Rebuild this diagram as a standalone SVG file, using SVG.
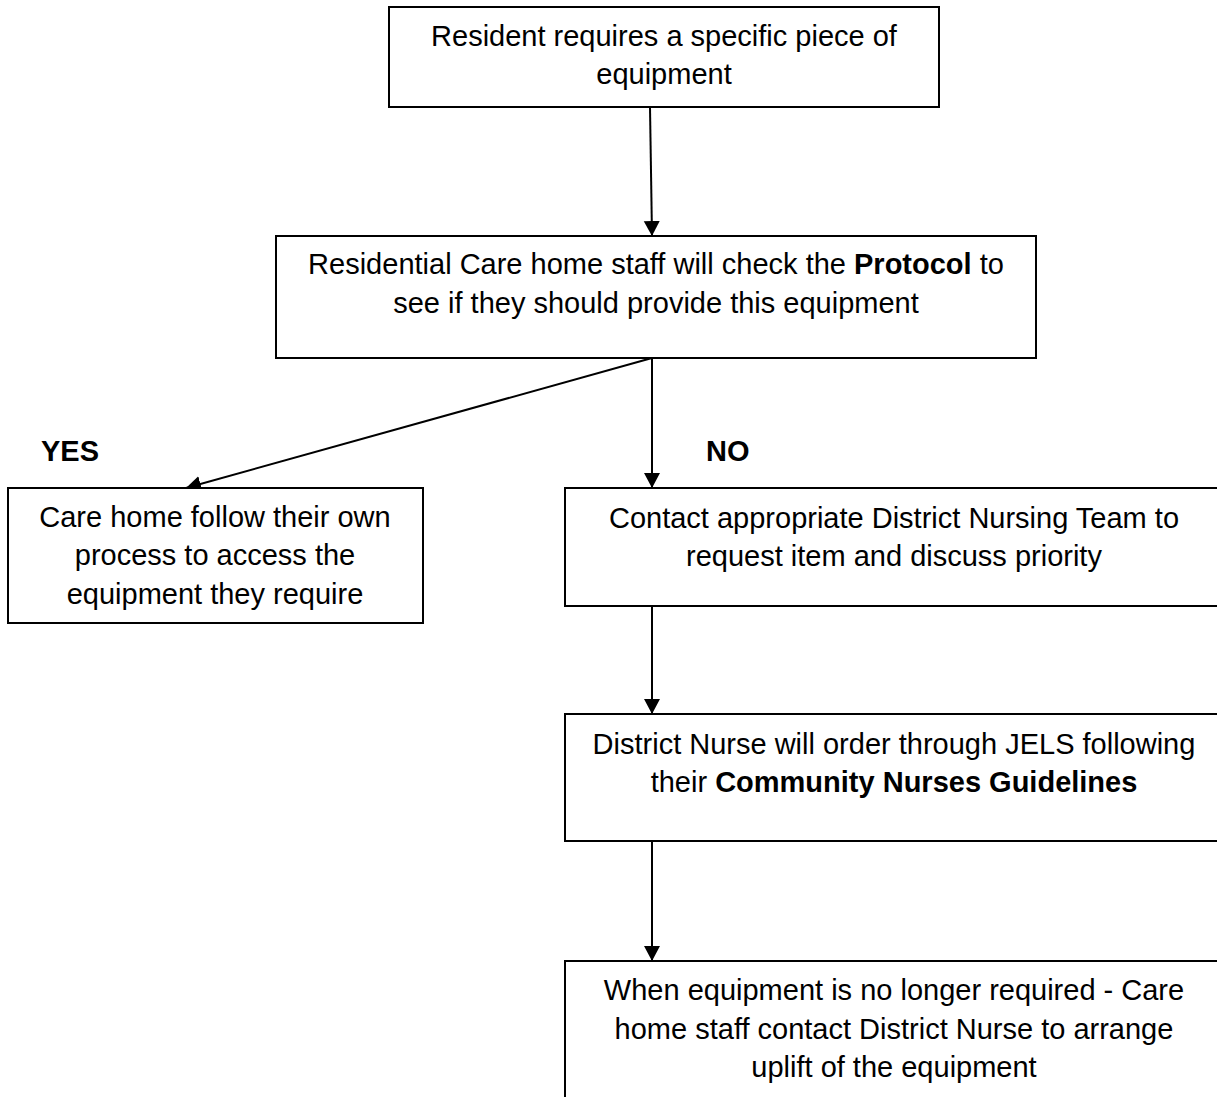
<svg xmlns="http://www.w3.org/2000/svg" width="1217" height="1097" viewBox="0 0 1217 1097">
<style>
  .box { fill: #ffffff; stroke: #000000; stroke-width: 2; }
  .t { font-family: "Liberation Sans", Arial, sans-serif; font-size: 29px; fill: #000000; text-anchor: middle; }
  .b { font-weight: bold; }
  .lbl { font-family: "Liberation Sans", Arial, sans-serif; font-size: 29px; font-weight: bold; fill: #000000; }
  .conn { stroke: #000000; stroke-width: 2; fill: none; marker-end: url(#arrow); }
</style>
<defs>
  <marker id="arrow" markerUnits="userSpaceOnUse" markerWidth="18" markerHeight="18" refX="15" refY="8" orient="auto">
    <path d="M0,0 L15,8 L0,16 z" fill="#000000"/>
  </marker>
</defs>
<rect width="1217" height="1097" fill="#ffffff"/>
<g id="connectors">
  <line class="conn" x1="650" y1="107" x2="652" y2="236"/>
  <line class="conn" x1="652" y1="358" x2="652" y2="488"/>
  <line class="conn" x1="652" y1="358" x2="186" y2="488"/>
  <line class="conn" x1="652" y1="606" x2="652" y2="714"/>
  <line class="conn" x1="652" y1="841" x2="652" y2="961"/>
</g>
<g id="node-resident">
  <rect class="box" x="389" y="7" width="550" height="100"/>
  <text class="t" x="664" y="46">Resident requires a specific piece of</text>
  <text class="t" x="664" y="84">equipment</text>
</g>
<g id="node-check-protocol">
  <rect class="box" x="276" y="236" width="760" height="122"/>
  <text class="t" x="656" y="274">Residential Care home staff will check the <tspan class="b">Protocol</tspan> to</text>
  <text class="t" x="656" y="313">see if they should provide this equipment</text>
</g>
<g id="label-yes">
  <text class="lbl" x="41" y="461">YES</text>
</g>
<g id="label-no">
  <text class="lbl" x="706" y="461">NO</text>
</g>
<g id="node-care-home-process">
  <rect class="box" x="8" y="488" width="415" height="135"/>
  <text class="t" x="215" y="527">Care home follow their own</text>
  <text class="t" x="215" y="565">process to access the</text>
  <text class="t" x="215" y="604">equipment they require</text>
</g>
<g id="node-contact-dn">
  <rect class="box" x="565" y="488" width="660" height="118"/>
  <text class="t" x="894" y="528">Contact appropriate District Nursing Team to</text>
  <text class="t" x="894" y="566">request item and discuss priority</text>
</g>
<g id="node-dn-order">
  <rect class="box" x="565" y="714" width="660" height="127"/>
  <text class="t" x="894" y="754">District Nurse will order through JELS following</text>
  <text class="t" x="894" y="792">their <tspan class="b">Community Nurses Guidelines</tspan></text>
</g>
<g id="node-uplift">
  <rect class="box" x="565" y="961" width="660" height="150"/>
  <text class="t" x="894" y="1000">When equipment is no longer required - Care</text>
  <text class="t" x="894" y="1039">home staff contact District Nurse to arrange</text>
  <text class="t" x="894" y="1077">uplift of the equipment</text>
</g>
</svg>
